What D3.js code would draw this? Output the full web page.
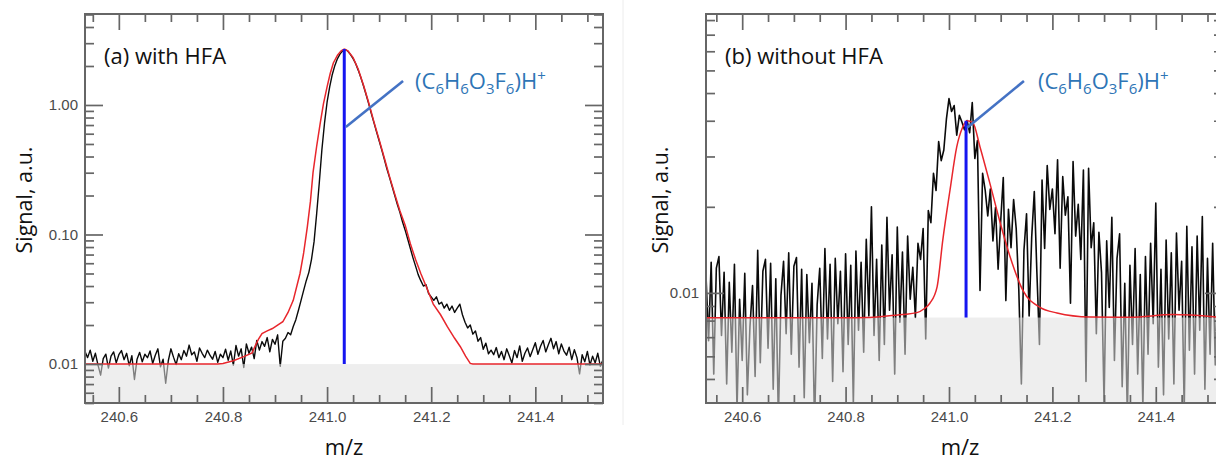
<!DOCTYPE html>
<html>
<head>
<meta charset="utf-8">
<script src="https://cdn.jsdelivr.net/npm/d3@7"></script>
<style>
  body { margin: 0; background: #fff; }
  svg { display: block; }
  .tick text { font-family: "Liberation Sans", Arial, sans-serif; font-size: 15px; fill: #4a4a4a; }
  .tick line { stroke: #666; stroke-width: 1.7; }
  .frame { fill: none; stroke: #666; stroke-width: 2; }
  .lbl { font-family: "Open Sans", sans-serif; fill: #111; }
</style>
</head>
<body>
<svg id="chart" width="1216" height="460"></svg>
<script>
// ---- data ----
// measured spectra are sampled on a regular m/z grid
const mzStepA = 0.005;
const mzStartA = 240.535;
const signalA = [
  0.0125, 0.0112, 0.0128, 0.0105, 0.0121, 0.0098, 0.0082, 0.0110, 0.0119, 0.0093, 0.0115, 0.0124, 0.0102,
  0.0118, 0.0127, 0.0108, 0.0121, 0.0097, 0.0116, 0.0076, 0.0109, 0.0123, 0.0104, 0.0119, 0.0112, 0.0126,
  0.0101, 0.0117, 0.0131, 0.0095, 0.0109, 0.0071, 0.0106, 0.0131, 0.0113, 0.0099, 0.0120, 0.0108, 0.0127,
  0.0115, 0.0140, 0.0118, 0.0124, 0.0105, 0.0133, 0.0121, 0.0112, 0.0128, 0.0117, 0.0109, 0.0125, 0.0103, 0.0119,
  0.0112, 0.0130, 0.0107, 0.0126, 0.0098, 0.0139, 0.0115, 0.0131, 0.0094, 0.0143, 0.0121, 0.0135, 0.0110, 0.0152,
  0.0128, 0.0149, 0.0137, 0.0160, 0.0124, 0.0155, 0.0142, 0.0168, 0.0096, 0.0150,
  0.0158, 0.0175, 0.0168, 0.0195, 0.022, 0.026, 0.031, 0.037, 0.044, 0.051, 0.064, 0.088,
  0.145, 0.25, 0.45, 0.72, 1.05, 1.38, 1.72, 2.02, 2.28, 2.48, 2.62,
  2.68, 2.60, 2.45, 2.28, 2.08, 1.85, 1.62, 1.40, 1.20, 1.02,
  0.86, 0.73, 0.62, 0.53, 0.45, 0.38, 0.32, 0.275, 0.235, 0.20,
  0.17, 0.148, 0.125, 0.108, 0.092, 0.078, 0.066, 0.057, 0.049, 0.044,
  0.040, 0.041, 0.035, 0.033, 0.031, 0.033, 0.029, 0.030, 0.027, 0.029,
  0.026, 0.028, 0.025, 0.027, 0.029, 0.024, 0.021, 0.019, 0.020, 0.017,
  0.018, 0.015, 0.016, 0.013, 0.0145, 0.012, 0.0128, 0.0118, 0.0134, 0.0112,
  0.0125, 0.0108, 0.0131, 0.0116, 0.0102, 0.0127, 0.0112, 0.0138, 0.0105, 0.0121,
  0.0133, 0.0114, 0.0129, 0.0146, 0.0119, 0.0137, 0.0152, 0.0124, 0.0141, 0.0158,
  0.0131, 0.0149, 0.0120, 0.0143, 0.0126, 0.0117, 0.0135, 0.0108, 0.0129, 0.0112,
  0.0084, 0.0118, 0.0104, 0.0125, 0.0098, 0.0115, 0.0102, 0.0121, 0.0096, 0.0108
];

const fitMzA = [240.535, 240.79, 240.80, 240.82, 240.84, 240.856, 240.862, 240.868, 240.875, 240.885,
  240.895, 240.905, 240.915, 240.925, 240.935, 240.948, 240.955, 240.962, 240.968, 240.973,
  240.98, 240.987, 240.993, 241.0, 241.006, 241.012, 241.02, 241.027, 241.033, 241.04,
  241.05, 241.06, 241.07, 241.08, 241.09, 241.10, 241.11, 241.12, 241.13, 241.14,
  241.15, 241.16, 241.17, 241.18, 241.19, 241.204, 241.218, 241.231, 241.245, 241.256,
  241.266, 241.275, 241.28, 241.53];
const fitA = [0.0100, 0.0100, 0.0101, 0.0106, 0.0114, 0.0122, 0.0138, 0.0155, 0.0172, 0.0180,
  0.0188, 0.0200, 0.0212, 0.025, 0.031, 0.050, 0.072, 0.114, 0.18, 0.30,
  0.48, 0.73, 1.02, 1.38, 1.75, 2.11, 2.42, 2.62, 2.70, 2.62,
  2.32, 1.88, 1.42, 1.04, 0.74, 0.54, 0.39, 0.28, 0.205, 0.152,
  0.118, 0.085, 0.064, 0.050, 0.040, 0.029, 0.024, 0.0194, 0.0158, 0.0136,
  0.0115, 0.0101, 0.0100, 0.0100];

const mzStepB = 0.005;
const mzStartB = 240.53;
const signalB = [
  0.0115, 0.0068, 0.0128, 0.0052, 0.0122, 0.0134, 0.0071, 0.0118, 0.0048, 0.0109,
  0.0062, 0.0126, 0.0039, 0.0095, 0.0058, 0.0117, 0.0044, 0.0076, 0.0106, 0.0051,
  0.0141, 0.0057, 0.0119, 0.0131, 0.0064, 0.0127, 0.0046, 0.0112, 0.0036, 0.0098,
  0.0129, 0.0072, 0.0138, 0.0061, 0.0124, 0.0133, 0.0055, 0.0121, 0.0043, 0.0116,
  0.0067, 0.0108, 0.0034, 0.0091, 0.0122, 0.0059, 0.0143, 0.0069, 0.0126, 0.0049,
  0.0132, 0.0078, 0.0119, 0.0053, 0.0137, 0.0066, 0.0125, 0.0041, 0.0140, 0.0074,
  0.0128, 0.0062, 0.0154, 0.0083, 0.0200, 0.0071, 0.0131, 0.0058, 0.0147, 0.0066,
  0.0184, 0.0087, 0.0136, 0.0052, 0.0170, 0.0079, 0.0139, 0.0061, 0.0158, 0.0095,
  0.0123, 0.0082, 0.0149, 0.0131, 0.0168, 0.0069, 0.0194, 0.0176, 0.0262, 0.0228,
  0.0338, 0.0290, 0.0316, 0.0405, 0.0478, 0.0431, 0.0452, 0.0356, 0.0418, 0.0396,
  0.0372, 0.0401, 0.0363, 0.0463, 0.0295, 0.0341, 0.0102, 0.0262, 0.0229, 0.0186,
  0.0231, 0.0152, 0.0199, 0.0121, 0.0178, 0.0253, 0.0094, 0.0196, 0.0144, 0.0212,
  0.0168, 0.0103, 0.0048, 0.0141, 0.0189, 0.0083, 0.0157, 0.0226, 0.0118, 0.0066,
  0.0248, 0.0143, 0.0279, 0.0196, 0.0231, 0.0161, 0.0292, 0.0122, 0.0255, 0.0187,
  0.0217, 0.0092, 0.0288, 0.0158, 0.0204, 0.0131, 0.0269, 0.0049, 0.0273, 0.0144,
  0.0176, 0.0072, 0.0163, 0.0118, 0.0041, 0.0152, 0.0089, 0.0184, 0.0058, 0.0132,
  0.0161, 0.0047, 0.0108, 0.0037, 0.0125, 0.0066, 0.0143, 0.0052, 0.0116, 0.0040,
  0.0134, 0.0061, 0.0149, 0.0078, 0.0206, 0.0055, 0.0121, 0.0044, 0.0153, 0.0069,
  0.0138, 0.0048, 0.0162, 0.0087, 0.0129, 0.0039, 0.0171, 0.0063, 0.0145, 0.0052,
  0.0158, 0.0074, 0.0185, 0.0046, 0.0132, 0.0061, 0.0149, 0.0056, 0.0124, 0.0068
];

const fitMzB = [240.53, 240.60, 240.70, 240.80, 240.841, 240.88, 240.91, 240.938, 240.952, 240.963,
  240.977, 240.988, 241.002, 241.015, 241.026, 241.035, 241.046, 241.06, 241.079, 241.099,
  241.118, 241.143, 241.176, 241.209, 241.273, 241.35, 241.433, 241.53];
const fitB = [0.00818, 0.00818, 0.00818, 0.00819, 0.0082, 0.0083, 0.0084, 0.00853, 0.0088, 0.0092,
  0.0105, 0.0153, 0.0229, 0.0324, 0.0378, 0.0400, 0.0394, 0.0324, 0.0242, 0.0176,
  0.0134, 0.0102, 0.0089, 0.00851, 0.00824, 0.00822, 0.0084, 0.0082];

// assigned ion (C6H6O3F6)H+
const ionMz = 241.033;
const xMajorTicks = [240.6, 240.8, 241.0, 241.2, 241.4];
const xMinorTicks = [240.55, 240.65, 240.7, 240.75, 240.85, 240.9, 240.95, 241.05, 241.1,
  241.15, 241.25, 241.3, 241.35, 241.45, 241.5];

const panels = [
  {
    id: 'a', title: '(a) with HFA',
    left: 85, right: 603, top: 14, bottom: 403,
    xDomain: [240.535, 241.53], yDomain: [0.005, 5.04],
    mzStart: mzStartA, mzStep: mzStepA, signal: signalA, lineWidth: 1.4,
    fitMz: fitMzA, fit: fitA, curve: d3.curveLinear,
    bandTop: 0.01, stickTop: 2.70,
    leader: [[241.036, 0.676], [241.146, 1.53]], labelAt: [241.169, 1.33],
    yLabelX: 32, xLabelX: 344
  },
  {
    id: 'b', title: '(b) without HFA',
    left: 706, right: 1223, top: 14, bottom: 403,
    xDomain: [240.53, 241.53], yDomain: [0.00412, 0.0945],
    mzStart: mzStartB, mzStep: mzStepB, signal: signalB, lineWidth: 1.6,
    fitMz: fitMzB, fit: fitB, curve: d3.curveMonotoneX,
    bandTop: 0.0082, stickTop: 0.0400,
    leader: [[241.035, 0.0378], [241.145, 0.0551]], labelAt: [241.172, 0.0517],
    yLabelX: 668, xLabelX: 960
  }
];

const svg = d3.select('#chart');

// faint edge of the pasted second figure
svg.append('line')
  .attr('x1', 623).attr('x2', 623).attr('y1', 0).attr('y2', 425)
  .attr('stroke', '#ececec').attr('stroke-width', 1);

panels.forEach(drawPanel);

function drawPanel(p) {
  const x = d3.scaleLinear().domain(p.xDomain).range([p.left, p.right]);
  const y = d3.scaleLog().domain(p.yDomain).range([p.bottom, p.top]);
  const w = p.right - p.left, h = p.bottom - p.top;

  const clipId = 'clip-' + p.id;
  svg.append('clipPath').attr('id', clipId)
    .append('rect').attr('x', p.left).attr('y', p.top).attr('width', w).attr('height', h);

  const g = svg.append('g');
  const plot = g.append('g').attr('clip-path', `url(#${clipId})`);

  // measured spectrum
  const sig = p.signal.map((v, i) => [p.mzStart + i * p.mzStep, v]);
  plot.append('path')
    .datum(sig)
    .attr('d', d3.line().x(d => x(d[0])).y(d => y(d[1])))
    .attr('fill', 'none')
    .attr('stroke', '#0a0a0a')
    .attr('stroke-width', p.lineWidth)
    .attr('stroke-linejoin', 'round');

  // grey band below the baseline
  plot.append('rect')
    .attr('x', p.left).attr('y', y(p.bandTop))
    .attr('width', w).attr('height', p.bottom - y(p.bandTop))
    .attr('fill', '#e0e0e0')
    .attr('opacity', 0.55);

  // fitted envelope
  const fit = p.fitMz.map((m, i) => [m, p.fit[i]]);
  plot.append('path')
    .datum(fit)
    .attr('d', d3.line().curve(p.curve).x(d => x(d[0])).y(d => y(d[1])))
    .attr('fill', 'none')
    .attr('stroke', '#e8262c')
    .attr('stroke-width', 1.5);

  // ion stick
  plot.append('line')
    .attr('x1', x(ionMz)).attr('x2', x(ionMz))
    .attr('y1', y(p.bandTop)).attr('y2', y(p.stickTop))
    .attr('stroke', '#1515f0')
    .attr('stroke-width', 3);

  // frame
  g.append('rect').attr('class', 'frame')
    .attr('x', p.left).attr('y', p.top).attr('width', w).attr('height', h);

  // axes (ticks point into the plot, mirrored on all four sides)
  const yTicks = y.ticks();
  const isDecade = v => Math.abs(Math.log10(v) - Math.round(Math.log10(v))) < 1e-6;
  const yMajor = yTicks.filter(isDecade);
  const yMinor = yTicks.filter(v => !isDecade(v));

  const addAxis = (axis, transform) => {
    g.append('g').attr('transform', transform).call(axis)
      .call(a => a.select('.domain').remove());
  };

  addAxis(d3.axisBottom(x).tickValues(xMinorTicks).tickSize(-8).tickFormat(''), `translate(0,${p.bottom})`);
  addAxis(d3.axisBottom(x).tickValues(xMajorTicks).tickSize(-16).tickPadding(8).tickFormat(d3.format('.1f')), `translate(0,${p.bottom})`);
  addAxis(d3.axisTop(x).tickValues(xMinorTicks).tickSize(-8).tickFormat(''), `translate(0,${p.top})`);
  addAxis(d3.axisTop(x).tickValues(xMajorTicks).tickSize(-16).tickFormat(''), `translate(0,${p.top})`);

  addAxis(d3.axisLeft(y).tickValues(yMinor).tickSize(-9).tickFormat(''), `translate(${p.left},0)`);
  addAxis(d3.axisLeft(y).tickValues(yMajor).tickSize(-18).tickPadding(7).tickFormat(d3.format('.2f')), `translate(${p.left},0)`);
  addAxis(d3.axisRight(y).tickValues(yMinor).tickSize(-9).tickFormat(''), `translate(${p.right},0)`);
  addAxis(d3.axisRight(y).tickValues(yMajor).tickSize(-18).tickFormat(''), `translate(${p.right},0)`);

  // panel title
  g.append('text').attr('class', 'lbl')
    .attr('x', p.left + 19).attr('y', 64)
    .attr('font-size', 22)
    .text(p.title);

  // axis titles
  g.append('text').attr('class', 'lbl')
    .attr('transform', `translate(${p.yLabelX},200) rotate(-90)`)
    .attr('text-anchor', 'middle')
    .attr('font-size', 21.5)
    .text('Signal, a.u.');

  g.append('text').attr('class', 'lbl')
    .attr('x', p.xLabelX).attr('y', 455)
    .attr('text-anchor', 'middle')
    .attr('font-size', 22)
    .text('m/z');

  // annotation: leader line + formula
  g.append('line')
    .attr('x1', x(p.leader[0][0])).attr('y1', y(p.leader[0][1]))
    .attr('x2', x(p.leader[1][0])).attr('y2', y(p.leader[1][1]))
    .attr('stroke', '#4472c4')
    .attr('stroke-width', 2.6);

  const t = g.append('text').attr('class', 'lbl')
    .attr('x', x(p.labelAt[0])).attr('y', y(p.labelAt[1]))
    .attr('font-size', 22)
    .style('fill', '#2e75b6');
  const parts = [['(C', 0], ['6', 1], ['H', 0], ['6', 1], ['O', 0], ['3', 1], ['F', 0], ['6', 1], [')H', 0], ['+', 2]];
  let shift = 0;
  parts.forEach(([s, kind]) => {
    const target = kind === 1 ? 5 : kind === 2 ? -8 : 0;
    t.append('tspan')
      .attr('dy', target - shift)
      .attr('font-size', kind ? 15 : 22)
      .text(s);
    shift = target;
  });
}
</script>
</body>
</html>
